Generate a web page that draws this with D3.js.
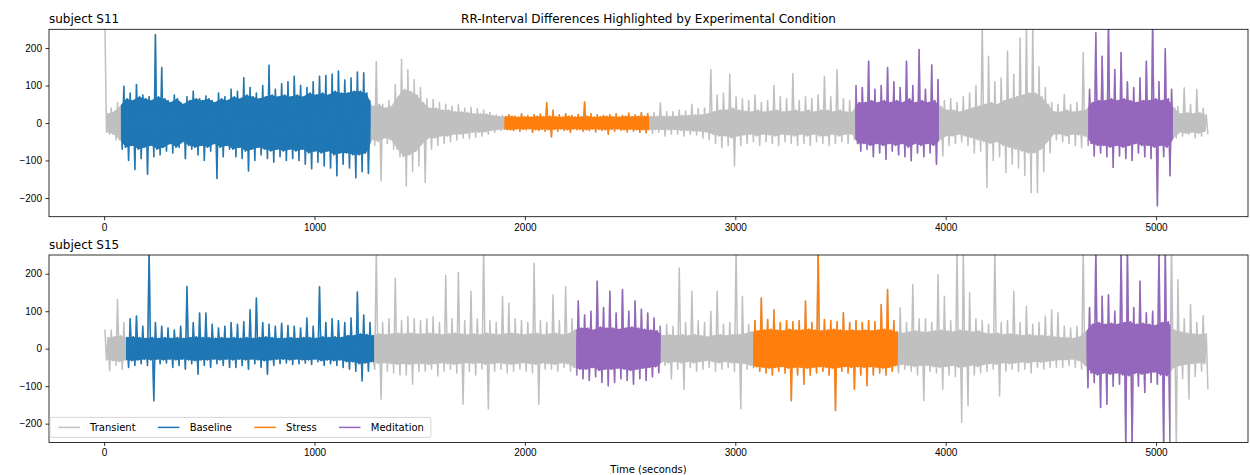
<!DOCTYPE html>
<html>
<head>
<meta charset="utf-8">
<script src="https://cdn.jsdelivr.net/npm/d3@7"></script>
<style>
  body { margin: 0; background: #fff; }
  svg { font-family: "DejaVu Sans", sans-serif; }
</style>
</head>
<body>
<svg id="drawing_region"></svg>
<script>
// ---- data ----
const chartTitle = 'RR-Interval Differences Highlighted by Experimental Condition';
const timeTicks = [0, 1000, 2000, 3000, 4000, 5000];
const valueTicks = [-200, -100, 0, 100, 200];
const conditions = ['Transient', 'Baseline', 'Stress', 'Meditation'];

// per 30 s bin: hi = highest peak, lo = lowest peak, core = half width of the dense band
const binSeconds = 30;

const s11Bounds = [0, 80, 1266, 1903, 2590, 3570, 3968, 4678, 5080, 5235];
const s11Conds = ['Transient', 'Baseline', 'Transient', 'Stress', 'Transient', 'Meditation', 'Transient', 'Meditation', 'Transient'];
const s11Hi = [
  265, 40, 55, 98, 80, 103, 75, 70, 236, 148,
  60, 75, 55, 70, 85, 65, 72, 60, 80, 70,
  90, 85, 121, 95, 80, 100, 154, 90, 105, 110,
  125, 100, 95, 110, 125, 127, 130, 139, 115, 120,
  136, 134, 60, 164, 50, 60, 103, 170, 143, 116,
  95, 65, 63, 55, 50, 45, 50, 40, 42, 38,
  35, 28, 22, 20, 22, 18, 25, 20, 22, 24,
  54, 34, 22, 25, 20, 23, 56, 25, 22, 20,
  22, 25, 20, 26, 22, 28, 25, 28, 54, 30,
  30, 35, 32, 50, 38, 40, 143, 75, 80, 130,
  70, 65, 60, 75, 55, 60, 100, 70, 65, 132,
  60, 70, 65, 75, 125, 70, 143, 65, 60, 100,
  95, 165, 90, 100, 148, 110, 95, 165, 100, 196,
  90, 155, 116, 60, 65, 55, 70, 80, 100, 265,
  178, 110, 120, 192, 130, 227, 265, 265, 150, 95,
  55, 50, 76, 50, 55, 188, 90, 241, 178, 265,
  143, 188, 110, 95, 120, 165, 265, 110, 198, 90,
  45, 94, 50, 90, 40
];
const s11Lo = [
  -30, -45, -70, -100, -124, -95, -137, -90, -85, -75,
  -80, -65, -95, -70, -85, -100, -75, -148, -90, -70,
  -90, -95, -128, -100, -85, -95, -105, -90, -100, -95,
  -100, -110, -122, -105, -115, -120, -141, -110, -120, -146,
  -130, -135, -60, -155, -55, -70, -90, -168, -130, -115,
  -159, -70, -60, -55, -50, -45, -40, -42, -38, -35,
  -30, -25, -20, -18, -20, -22, -18, -25, -20, -22,
  -37, -22, -20, -25, -18, -22, -20, -24, -20, -30,
  -22, -20, -24, -22, -25, -26, -28, -25, -35, -30,
  -30, -35, -30, -32, -40, -45, -55, -66, -60, -115,
  -60, -55, -50, -60, -50, -55, -60, -50, -55, -60,
  -55, -60, -50, -55, -60, -55, -50, -55, -45, -75,
  -70, -90, -80, -97, -75, -85, -90, -101, -80, -90,
  -80, -110, -88, -60, -55, -50, -60, -80, -75, -172,
  -100, -90, -132, -110, -120, -140, -186, -186, -130, -80,
  -45, -50, -55, -60, -66, -60, -88, -80, -90, -119,
  -88, -95, -100, -80, -90, -95, -221, -90, -141, -40,
  -35, -30, -40, -35, -30
];
const s11Core = [
  25, 30, 45, 65, 60, 70, 65, 60, 70, 65,
  55, 65, 50, 60, 65, 60, 65, 55, 65, 60,
  70, 65, 75, 70, 65, 70, 75, 70, 75, 70,
  75, 70, 80, 75, 80, 75, 85, 80, 80, 85,
  85, 80, 45, 50, 40, 45, 70, 90, 85, 75,
  55, 40, 40, 35, 35, 30, 30, 28, 25, 25,
  24, 20, 18, 17, 18, 16, 17, 16, 18, 17,
  18, 17, 16, 18, 16, 17, 18, 16, 17, 18,
  17, 16, 18, 17, 18, 18, 18, 18, 18, 18,
  18, 20, 20, 22, 22, 25, 30, 35, 35, 40,
  35, 32, 30, 35, 30, 32, 35, 30, 32, 35,
  30, 35, 30, 35, 35, 30, 35, 30, 30, 55,
  55, 60, 55, 60, 55, 60, 55, 65, 55, 60,
  55, 60, 45, 35, 35, 30, 35, 40, 45, 50,
  55, 50, 60, 65, 70, 75, 80, 80, 70, 50,
  30, 30, 35, 30, 32, 35, 55, 60, 60, 65,
  60, 65, 60, 55, 60, 60, 65, 60, 65, 40,
  25, 28, 25, 28, 22
];

const s15Bounds = [0, 104, 1283, 2244, 2645, 3085, 3772, 4670, 5068, 5235];
const s15Conds = ['Transient', 'Baseline', 'Transient', 'Meditation', 'Transient', 'Stress', 'Transient', 'Meditation', 'Transient'];
const s15Hi = [
  51, 50, 131, 70, 80, 87, 60, 265, 70, 60,
  55, 50, 60, 166, 70, 95, 95, 65, 55, 60,
  70, 65, 72, 104, 135, 70, 65, 60, 68, 62,
  60, 55, 82, 60, 165, 70, 80, 75, 70, 82,
  151, 90, 70, 265, 70, 80, 188, 75, 85, 80,
  75, 80, 85, 70, 196, 80, 204, 75, 153, 80,
  265, 75, 70, 140, 122, 80, 75, 70, 228, 75,
  70, 144, 75, 165, 80, 127, 90, 100, 180, 110,
  153, 95, 158, 100, 127, 105, 95, 82, 60, 65,
  60, 215, 70, 153, 75, 70, 100, 153, 65, 70,
  265, 140, 65, 75, 135, 78, 104, 70, 75, 72,
  75, 127, 70, 265, 78, 75, 72, 96, 70, 75,
  70, 75, 72, 118, 158, 75, 109, 70, 171, 80,
  80, 70, 197, 140, 75, 265, 265, 149, 80, 75,
  65, 265, 70, 75, 153, 70, 113, 65, 70, 87,
  104, 96, 60, 55, 60, 265, 110, 265, 140, 144,
  100, 265, 265, 110, 180, 96, 100, 265, 265, 265,
  184, 80, 118, 70, 88
];
const s15Lo = [
  -59, -45, -55, -50, -45, -40, -45, -139, -40, -38,
  -50, -45, -55, -40, -68, -45, -50, -40, -45, -50,
  -50, -45, -55, -40, -50, -68, -45, -40, -38, -42,
  -40, -38, -42, -35, -45, -40, -45, -50, -55, -60,
  -86, -60, -55, -135, -60, -65, -70, -70, -95, -60,
  -60, -55, -73, -60, -55, -65, -148, -60, -70, -55,
  -161, -60, -55, -65, -60, -55, -60, -65, -148, -55,
  -55, -60, -50, -60, -70, -80, -85, -75, -90, -99,
  -90, -80, -85, -95, -80, -85, -75, -64, -45, -81,
  -55, -108, -50, -60, -55, -50, -60, -55, -50, -60,
  -161, -55, -50, -60, -65, -70, -60, -65, -139, -70,
  -95, -70, -65, -60, -70, -165, -60, -65, -108, -70,
  -99, -70, -65, -70, -60, -65, -55, -60, -70, -139,
  -60, -65, -108, -70, -75, -196, -152, -70, -65, -60,
  -55, -126, -60, -55, -60, -55, -65, -50, -55, -50,
  -50, -50, -45, -50, -55, -104, -90, -157, -148, -100,
  -95, -265, -265, -100, -117, -90, -95, -265, -265, -265,
  -80, -134, -75, -60, -108
];
const s15Core = [
  30, 32, 35, 30, 32, 30, 28, 30, 28, 30,
  28, 30, 28, 30, 32, 30, 30, 28, 30, 28,
  30, 28, 30, 28, 30, 32, 30, 28, 28, 30,
  28, 30, 30, 28, 32, 30, 32, 30, 35, 35,
  40, 38, 35, 40, 38, 40, 42, 40, 42, 40,
  40, 42, 40, 38, 40, 42, 40, 38, 40, 38,
  42, 40, 38, 40, 42, 40, 38, 40, 42, 38,
  40, 42, 38, 40, 50, 55, 55, 50, 58, 55,
  55, 52, 55, 58, 55, 52, 50, 48, 35, 38,
  35, 38, 35, 38, 35, 32, 35, 38, 35, 38,
  38, 40, 45, 48, 50, 52, 50, 48, 52, 50,
  50, 52, 50, 48, 50, 52, 50, 48, 50, 48,
  50, 48, 50, 52, 50, 45, 42, 45, 48, 45,
  45, 48, 50, 48, 45, 50, 48, 45, 48, 42,
  40, 42, 38, 40, 38, 36, 38, 35, 36, 34,
  32, 30, 30, 28, 32, 45, 65, 70, 65, 68,
  65, 70, 72, 65, 68, 65, 62, 70, 72, 50,
  45, 42, 40, 38, 40
];

const colors = {
  Transient: '#c0c0c0',
  Baseline: '#1f77b4',
  Stress: '#ff7f0e',
  Meditation: '#9467bd'
};

const svg = d3.select('#drawing_region')
  .attr('width', 1250)
  .attr('height', 475);

class SignalPanel {
  constructor(config, data) {
    this.config = config;
    this.data = data;
    this.init();
  }

  init() {
    let self = this;
    const c = self.config;
    self.inner_width = c.width;
    self.inner_height = c.height;
    self.chart = svg.append('g')
      .attr('transform', `translate(${c.left}, ${c.top})`);

    self.xscale = d3.scaleLinear()
      .domain([-262, 5437])
      .range([0, self.inner_width]);
    self.yscale = d3.scaleLinear()
      .domain([-250, 250])
      .range([self.inner_height, 0]);

    // each bin: peak up, band bottom, band top, peak down
    const d = self.data;
    const q = binSeconds / 8;
    self.points = d.hi.flatMap((h, i) => {
      const t0 = i * binSeconds;
      return [
        { t: t0 + q, v: h },
        { t: t0 + 3 * q, v: -d.core[i] },
        { t: t0 + 5 * q, v: d.core[i] },
        { t: t0 + 7 * q, v: d.lo[i] }
      ];
    });
    // dense band drawn as a filled area
    self.band = d.core.map((w, i) => ({ t: i * binSeconds + binSeconds / 2, w: w }));
    self.segments = d.conds.map((cond, i) => ({ cond: cond, start: d.bounds[i], end: d.bounds[i + 1] }));
  }

  render() {
    let self = this;
    const id = self.config.id;
    const defs = self.chart.append('defs');
    defs.append('clipPath').attr('id', id + '-axes')
      .append('rect')
      .attr('width', self.inner_width)
      .attr('height', self.inner_height);

    const line = d3.line()
      .x(p => self.xscale(p.t))
      .y(p => self.yscale(p.v));
    const area = d3.area()
      .x(p => self.xscale(p.t))
      .y0(p => self.yscale(-p.w))
      .y1(p => self.yscale(p.w));

    const drawSignal = (g, color) => {
      g.append('path')
        .datum(self.band)
        .attr('d', area)
        .attr('fill', color);
      g.append('path')
        .datum(self.points)
        .attr('d', line)
        .attr('fill', 'none')
        .attr('stroke', color)
        .attr('stroke-width', 1.5)
        .attr('stroke-linejoin', 'round');
    };

    const plot = self.chart.append('g').attr('clip-path', `url(#${id}-axes)`);
    drawSignal(plot.append('g'), colors.Transient);

    self.segments.filter(s => s.cond !== 'Transient').forEach((s, i) => {
      const cid = `${id}-seg${i}`;
      defs.append('clipPath').attr('id', cid)
        .append('rect')
        .attr('x', self.xscale(s.start))
        .attr('y', 0)
        .attr('width', self.xscale(s.end) - self.xscale(s.start))
        .attr('height', self.inner_height);
      drawSignal(plot.append('g').attr('clip-path', `url(#${cid})`), colors[s.cond]);
    });

    // axes
    const xaxis = d3.axisBottom(self.xscale)
      .tickValues(timeTicks)
      .tickSize(3.5)
      .tickPadding(3.5)
      .tickSizeOuter(0)
      .tickFormat(d3.format('d'));
    const yaxis = d3.axisLeft(self.yscale)
      .tickValues(valueTicks)
      .tickSize(3.5)
      .tickPadding(3.5)
      .tickSizeOuter(0)
      .tickFormat(v => v < 0 ? '\u2212' + Math.abs(v) : v);

    const xg = self.chart.append('g')
      .attr('transform', `translate(0, ${self.inner_height})`)
      .call(xaxis);
    const yg = self.chart.append('g').call(yaxis);
    [xg, yg].forEach(g => {
      g.select('.domain').remove();
      g.selectAll('line').attr('stroke', '#000').attr('stroke-width', 0.8);
      g.selectAll('text').attr('fill', '#000').style('font-size', '10px');
    });

    self.chart.append('rect')
      .attr('width', self.inner_width)
      .attr('height', self.inner_height)
      .attr('fill', 'none')
      .attr('stroke', '#000')
      .attr('stroke-width', 0.8);

    self.chart.append('text')
      .attr('x', 0)
      .attr('y', -6)
      .style('font-size', '12px')
      .text(self.data.name);
  }

  legend() {
    let self = this;
    const lg = self.chart.append('g')
      .attr('transform', `translate(1, ${self.inner_height - 25})`);
    const box = lg.append('rect')
      .attr('y', 0)
      .attr('height', 20)
      .attr('rx', 2)
      .attr('fill', '#fff')
      .attr('fill-opacity', 0.8)
      .attr('stroke', '#cccccc')
      .attr('stroke-width', 0.8);
    let x = 8;
    conditions.forEach(cond => {
      lg.append('line')
        .attr('x1', x + 1).attr('x2', x + 21)
        .attr('y1', 10).attr('y2', 10)
        .attr('stroke', colors[cond])
        .attr('stroke-width', 1.5)
        .attr('stroke-linecap', 'square');
      const t = lg.append('text')
        .attr('x', x + 32)
        .attr('y', 10)
        .attr('dy', '0.35em')
        .style('font-size', '10px')
        .text(cond);
      x += 32 + t.node().getComputedTextLength() + 22;
    });
    box.attr('width', x - 22 + 7);
  }
}

const left = 49, width = 1199, height = 187.4;

const p1 = new SignalPanel(
  { id: 's11', left: left, top: 29.3, width: width, height: height },
  { name: 'subject S11', bounds: s11Bounds, conds: s11Conds, hi: s11Hi, lo: s11Lo, core: s11Core }
);
p1.render();

const p2 = new SignalPanel(
  { id: 's15', left: left, top: 255, width: width, height: height },
  { name: 'subject S15', bounds: s15Bounds, conds: s15Conds, hi: s15Hi, lo: s15Lo, core: s15Core }
);
p2.render();
p2.legend();

svg.append('text')
  .attr('x', left + width / 2)
  .attr('y', 23.3)
  .attr('text-anchor', 'middle')
  .style('font-size', '12px')
  .text(chartTitle);

svg.append('text')
  .attr('x', left + width / 2)
  .attr('y', 473)
  .attr('text-anchor', 'middle')
  .style('font-size', '10px')
  .text('Time (seconds)');
</script>
</body>
</html>
